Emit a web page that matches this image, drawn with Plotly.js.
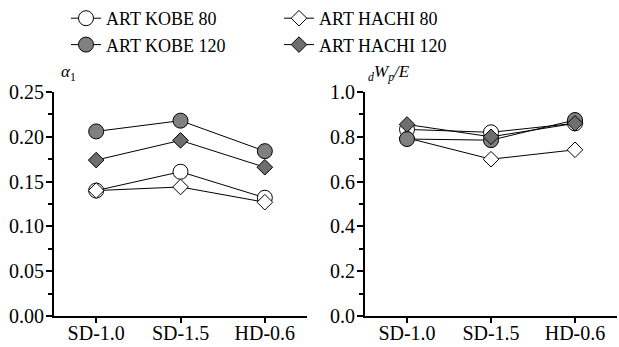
<!DOCTYPE html>
<html>
<head>
<meta charset="utf-8">
<script src="https://cdn.plot.ly/plotly-3.0.1.min.js"></script>
<style>html,body{margin:0;padding:0;background:#fff;}#chart{width:619px;height:347px;}</style>
</head>
<body>
<div id="chart"></div>
<script>
const categories = ["SD-1.0", "SD-1.5", "HD-0.6"];
const seriesNames = ["ART KOBE 80", "ART HACHI 80", "ART KOBE 120", "ART HACHI 120"];
// alpha_1 (left panel)
const alphaKobe80 = [0.140, 0.161, 0.132];
const alphaHachi80 = [0.140, 0.144, 0.127];
const alphaKobe120 = [0.206, 0.218, 0.184];
const alphaHachi120 = [0.174, 0.196, 0.166];
// dWp/E (right panel)
const wpeKobe80 = [0.833, 0.820, 0.860];
const wpeHachi80 = [0.795, 0.700, 0.742];
const wpeKobe120 = [0.790, 0.785, 0.875];
const wpeHachi120 = [0.855, 0.800, 0.860];

const FONT = "'Liberation Serif', 'Times New Roman', serif";
const styles = [
  {symbol: "circle", size: 15, fill: "#ffffff", legend: "legend"},
  {symbol: "diamond", size: 12, fill: "#ffffff", legend: "legend2"},
  {symbol: "circle", size: 15, fill: "#808080", legend: "legend"},
  {symbol: "diamond", size: 12, fill: "#6e6e6e", legend: "legend2"}
];
const leftData = [alphaKobe80, alphaHachi80, alphaKobe120, alphaHachi120];
const rightData = [wpeKobe80, wpeHachi80, wpeKobe120, wpeHachi120];

const traces = [];
leftData.forEach((ys, i) => {
  const s = styles[i];
  traces.push({
    type: "scatter", mode: "lines+markers", x: categories, y: ys,
    name: seriesNames[i], legend: s.legend, xaxis: "x", yaxis: "y",
    line: {color: "#000", width: 1},
    marker: {symbol: s.symbol, size: s.size, color: s.fill, line: {color: "#000", width: 1}}
  });
});
rightData.forEach((ys, i) => {
  const s = styles[i];
  traces.push({
    type: "scatter", mode: "lines+markers", x: categories, y: ys,
    name: seriesNames[i], showlegend: false, xaxis: "x2", yaxis: "y2",
    line: {color: "#000", width: 1},
    marker: {symbol: s.symbol, size: s.size, color: s.fill, line: {color: "#000", width: 1}}
  });
});

const xCommon = {
  type: "category", range: [-0.5, 2.5], showline: true, linecolor: "#000", linewidth: 2,
  ticks: "outside", ticklen: 5, tickcolor: "#000", tickwidth: 2, showgrid: false, zeroline: false,
  ticklabelstandoff: -7,
  tickfont: {family: FONT, size: 20, color: "#000"}, fixedrange: true
};
const yCommon = {
  showline: true, linecolor: "#000", linewidth: 2, ticks: "outside", ticklen: 6, tickcolor: "#000",
  tickwidth: 2, showgrid: false, zeroline: false, ticklabelstandoff: -2,
  tickfont: {family: FONT, size: 20, color: "#000"}
};

const layout = {
  width: 619, height: 347,
  paper_bgcolor: "#fff", plot_bgcolor: "#fff",
  margin: {l: 54, r: 2, t: 92, b: 31},
  font: {family: FONT, size: 18, color: "#000"},
  xaxis: Object.assign({}, xCommon, {domain: [0, 0.4494], anchor: "y"}),
  xaxis2: Object.assign({}, xCommon, {domain: [0.5524, 1], anchor: "y2"}),
  yaxis: Object.assign({}, yCommon, {range: [0, 0.25], dtick: 0.05, tickformat: ".2f", anchor: "x",
    minor: {ticks: "outside", ticklen: 4, tickcolor: "#000", dtick: 0.025, showgrid: false}}),
  yaxis2: Object.assign({}, yCommon, {range: [0, 1], dtick: 0.2, tickformat: ".1f", anchor: "x2",
    minor: {ticks: "outside", ticklen: 4, tickcolor: "#000", dtick: 0.1, showgrid: false}}),
  legend: {xref: "paper", y: 1, yref: "container", xanchor: "left", yanchor: "top",
    orientation: "v", bgcolor: "rgba(0,0,0,0)", font: {family: FONT, size: 18, color: "#000"}},
  legend2: {xref: "paper", yref: "container", y: 1, xanchor: "left", yanchor: "top",
    orientation: "v", bgcolor: "rgba(0,0,0,0)", font: {family: FONT, size: 18, color: "#000"}},
  annotations: [
    {text: "<i>α</i><sub>1</sub>", xref: "paper", yref: "paper", x: 0.008, y: 1.025,
     xanchor: "left", yanchor: "bottom", showarrow: false, font: {family: FONT, size: 17, color: "#000"}},
    {text: "<sub><i>d</i></sub><i>W</i><sub><i>p</i></sub><i>/E</i>", xref: "paper", yref: "paper", x: 0.5524 + 0.002, y: 1.025,
     xanchor: "left", yanchor: "bottom", showarrow: false, font: {family: FONT, size: 17, color: "#000"}}
  ]
};
// legend x positions in paper fraction (plot area starts at 54px, width 563px)
layout.legend.x = (66 - 54) / 563;
layout.legend2.x = (279 - 54) / 563;

Plotly.newPlot("chart", traces, layout, {displayModeBar: false, staticPlot: true});
</script>
</body>
</html>
